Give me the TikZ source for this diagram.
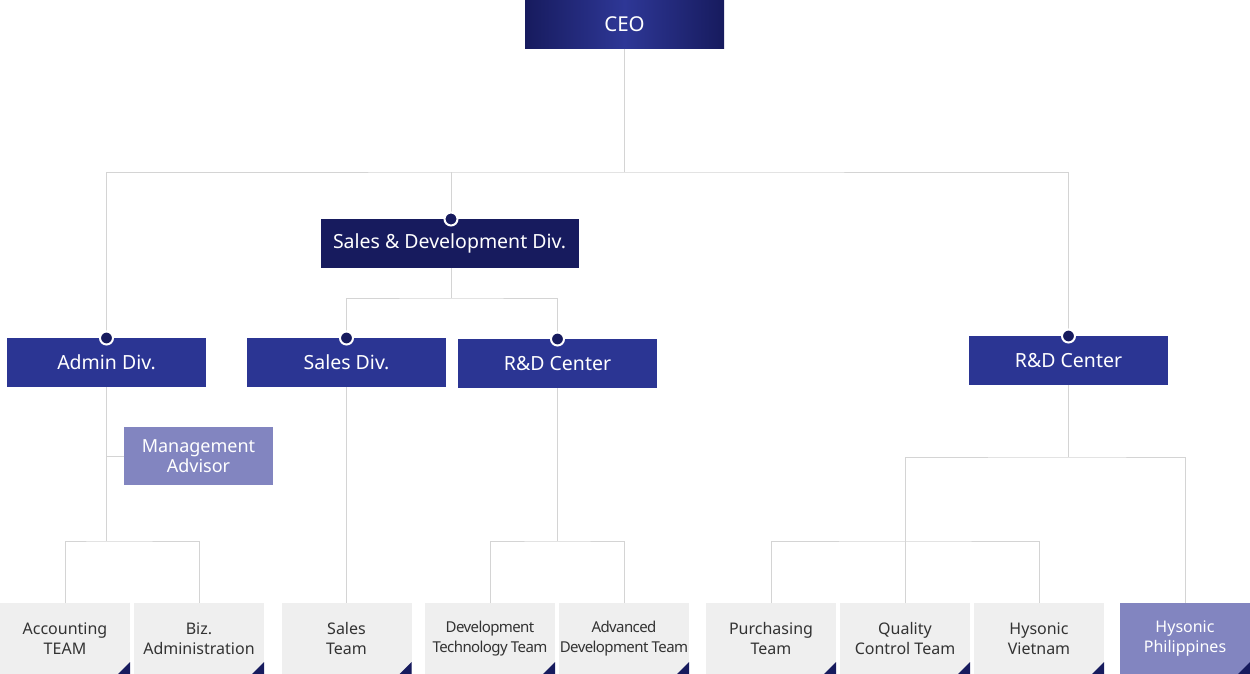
\documentclass[tikz,border=0pt]{standalone}
\usepackage{fontspec}
\setmainfont{Noto Sans}
\usetikzlibrary{positioning}

\definecolor{navydark}{HTML}{171B5E}
\definecolor{navymid}{HTML}{2E3796}
\definecolor{divblue}{HTML}{2B3593}
\definecolor{lavender}{HTML}{8285C0}
\definecolor{teamgray}{HTML}{EFEFEF}
\definecolor{linegray}{HTML}{D4D4D4}
\definecolor{textgray}{HTML}{333333}

\begin{document}
\begin{tikzpicture}[
  x=1pt, y=-1pt,
  node distance=4pt,
  divbox/.style={fill=divblue, text=white, minimum width=199pt, minimum height=49pt,
    inner sep=0pt, outer sep=0pt, font=\fontsize{19.5}{22}\selectfont},
  teambox/.style={fill=teamgray, text=textgray, minimum width=130pt, minimum height=71pt,
    inner sep=0pt, outer sep=0pt, align=center, font=\fontsize{16}{20}\selectfont,
    path picture={\fill[navydark] (path picture bounding box.south east)
      -- ++(-12pt,0pt) -- ++(12pt,12pt) -- cycle;}},
  link/.style={draw=linegray, line width=1pt},
  knob/.style={circle, fill=navydark, draw=white, line width=2pt, inner sep=0pt, minimum size=13pt}
]
\useasboundingbox (0,0) rectangle (1250,674);

% top levels
\node[divbox, left color=navydark, right color=navydark, middle color=navymid,
  font=\fontsize{20.5}{22}\selectfont] (ceo) at (624.5,24.5) {CEO};
\node[divbox, fill=navydark, minimum width=258pt] (salesdev) at (449.5,243.5) {Sales \& Development Div.};
\node[divbox] (admin) at (106.5,362.5) {Admin Div.};
\node[divbox] (sales) at (346.5,362.5) {Sales Div.};
\node[divbox] (rdmid) at (557.5,363.5) {R\&D Center};
\node[divbox] (rdright) at (1068.5,360.5) {R\&D Center};
\node[divbox, fill=lavender, minimum width=149pt, minimum height=58pt, align=center,
  font=\fontsize{18}{20}\selectfont] (adv) at (198.5,456) {Management\\Advisor};

% teams
\node[teambox] (acct) at (65,638.5) {Accounting\\TEAM};
\node[teambox, right=of acct] (biz) {Biz.\\Administration};
\node[teambox] (steam) at (346.5,638.5) {Sales\\Team};
\node[teambox, font=\fontsize{15}{20}\selectfont\addfontfeature{LetterSpace=-4}] (devtech) at (490,638.5) {Development\\Technology Team};
\node[teambox, font=\fontsize{15}{20}\selectfont\addfontfeature{LetterSpace=-4}, right=of devtech] (advdev) {Advanced\\Development Team};
\node[teambox] (purch) at (771,638.5) {Purchasing\\Team};
\node[teambox, right=of purch] (quality) {Quality\\Control Team};
\node[teambox, right=of quality] (vietnam) {Hysonic\\Vietnam};
\node[teambox, fill=lavender, text=white] (phil) at (1185,638.5) {Hysonic\\Philippines};

% connectors
\draw[link] (ceo.south) -- ++(0,123) coordinate (hub);
\draw[link] (admin.north) |- (hub) -| (rdright.north);
\draw[link] (salesdev.north -| 451,0) -- (hub -| 451,0);
\draw[link] (salesdev.south -| 451,0) -- ++(0,30) coordinate (sdhub);
\draw[link] (sales.north) |- (sdhub) -| (rdmid.north);

\draw[link] (admin.south) -- ++(0,154) coordinate (adhub);
\draw[link] (adv.west) -- (adv.west -| admin.south);
\draw[link] (acct.north) |- (adhub) -| (biz.north);

\draw[link] (sales.south) -- (steam.north);

\draw[link] (rdmid.south) -- ++(0,153) coordinate (rmhub);
\draw[link] (devtech.north) |- (rmhub) -| (advdev.north);

\draw[link] (rdright.south) -- ++(0,72) coordinate (rrhub);
\draw[link] (quality.north) -- ++(0,-62) coordinate (rrsub);
\draw[link] (purch.north) |- (rrsub) -| (vietnam.north);
\draw[link] (rrsub) |- (rrhub) -| (phil.north);

% knobs
\node[knob] (salesdev-knob) at (salesdev.north -| 451,0) {};
\node[knob] (admin-knob) at (admin.north) {};
\node[knob] (sales-knob) at (sales.north) {};
\node[knob] (rdmid-knob) at (rdmid.north) {};
\node[knob] (rdright-knob) at (rdright.north) {};
\end{tikzpicture}
\end{document}
